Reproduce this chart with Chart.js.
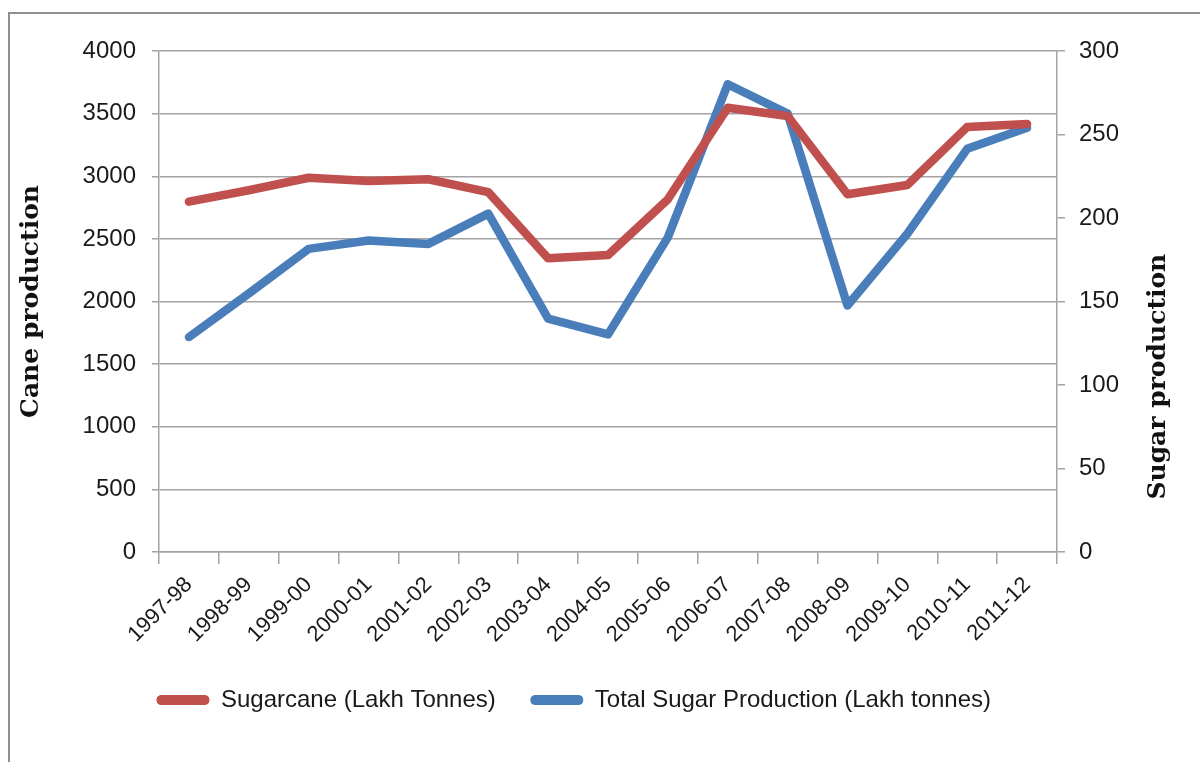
<!DOCTYPE html>
<html>
<head>
<meta charset="utf-8">
<script src="https://cdn.jsdelivr.net/npm/chart.js@4.4.1/dist/chart.umd.min.js"></script>
<style>
html, body { margin: 0; padding: 0; background: #fff; overflow: hidden; }
#marco { position: absolute; left: 8px; top: 12px; width: 1300px; height: 900px; border: 2px solid #8e8e8e; }
#caja { position: absolute; left: 0; top: 0; width: 1200px; height: 762px; }
</style>
</head>
<body>
<div id="marco"></div>
<div id="caja"><canvas id="graficoLineas"></canvas></div>
<script>
// datos
const temporadas = ['1997-98', '1998-99', '1999-00', '2000-01', '2001-02', '2002-03', '2003-04', '2004-05',
                    '2005-06', '2006-07', '2007-08', '2008-09', '2009-10', '2010-11', '2011-12'];
const cana   = [2797, 2888, 2988, 2962, 2976, 2874, 2345, 2371, 2816, 3547, 3481, 2856, 2930, 3393, 3417];
const azucar = [128.7, 154.8, 181.5, 186.5, 184.5, 202.6, 139.7, 130.3, 188.4, 280.1, 262.5, 147.6, 190.6, 241.4, 254];

const rojo = '#C0504D';
const azul = '#4A7EBB';
const gris = '#a3a3a3';
const fuenteTicks = '"Liberation Sans", sans-serif';

// titulo del eje derecho, se lee de abajo hacia arriba
const tituloDerecho = {
  id: 'tituloDerecho',
  afterDraw(chart) {
    const ctx = chart.ctx;
    const area = chart.chartArea;
    ctx.save();
    ctx.translate(chart.width - 42, area.top + area.height * 0.65);
    ctx.rotate(-Math.PI / 2);
    ctx.font = 'bold 25px "DejaVu Serif"';
    ctx.fillStyle = '#111';
    ctx.textAlign = 'center';
    ctx.textBaseline = 'middle';
    ctx.fillText('Sugar production', 0, 0);
    ctx.restore();
  }
};

// la leyenda del original queda un poco a la izquierda
const correrLeyenda = {
  id: 'correrLeyenda',
  afterLayout(chart) {
    const leyenda = chart.legend;
    if (!leyenda) return;
    leyenda.left -= 26;
    leyenda.right -= 26;
  }
};

const chartData = {
  labels: temporadas,
  datasets: [
    {
      label: 'Sugarcane (Lakh Tonnes)',
      data: cana,
      yAxisID: 'y',
      borderColor: rojo,
      backgroundColor: rojo,
      borderWidth: 8.5,
      pointRadius: 0,
      tension: 0,
      borderCapStyle: 'round',
      borderJoinStyle: 'round'
    },
    {
      label: 'Total Sugar Production (Lakh tonnes)',
      data: azucar,
      yAxisID: 'y1',
      borderColor: azul,
      backgroundColor: azul,
      borderWidth: 8.5,
      pointRadius: 0,
      tension: 0,
      borderCapStyle: 'round',
      borderJoinStyle: 'round'
    }
  ]
};

const options = {
  responsive: true,
  maintainAspectRatio: false,
  animation: false,
  layout: {
    padding: { top: 51, left: 0, right: 0, bottom: 40 }
  },
  scales: {
    x: {
      type: 'category',
      offset: true,
      afterFit: function(scale) { scale.height = 101; },
      border: { color: gris, width: 1.5 },
      grid: {
        offset: true,
        drawOnChartArea: false,
        drawTicks: true,
        tickLength: 12,
        color: gris,
        lineWidth: 1.5
      },
      ticks: {
        minRotation: 45,
        maxRotation: 45,
        autoSkip: false,
        padding: 8,
        color: '#1a1a1a',
        font: { family: fuenteTicks, size: 22 }
      }
    },
    y: {
      type: 'linear',
      position: 'left',
      min: 0,
      max: 4000,
      afterFit: function(scale) { scale.width = 159; },
      border: { color: gris, width: 1.5 },
      grid: { color: gris, lineWidth: 1.5, tickLength: 7 },
      ticks: {
        stepSize: 500,
        padding: 16,
        color: '#1a1a1a',
        font: { family: fuenteTicks, size: 24 },
        callback: function(value) { return String(value); }
      },
      title: {
        display: true,
        text: 'Cane production',
        color: '#111',
        padding: { top: 16, bottom: 0 },
        font: { family: '"DejaVu Serif"', size: 25, weight: 'bold' }
      }
    },
    y1: {
      type: 'linear',
      position: 'right',
      min: 0,
      max: 300,
      afterFit: function(scale) { scale.width = 143; },
      border: { color: gris, width: 1.5 },
      grid: { drawOnChartArea: false, color: gris, lineWidth: 1.5, tickLength: 8 },
      ticks: {
        stepSize: 50,
        padding: 14,
        color: '#1a1a1a',
        font: { family: fuenteTicks, size: 24 },
        callback: function(value) { return String(value); }
      }
    }
  },
  plugins: {
    legend: {
      position: 'bottom',
      labels: {
        boxWidth: 52,
        boxHeight: 9,
        padding: 35,
        useBorderRadius: true,
        borderRadius: 4,
        color: '#1a1a1a',
        font: { family: fuenteTicks, size: 24 },
        generateLabels: function(chart) {
          return Chart.defaults.plugins.legend.labels.generateLabels(chart).map(function(item) {
            item.lineWidth = 1;
            return item;
          });
        }
      }
    },
    tooltip: { enabled: false }
  }
};

new Chart(
  document.getElementById('graficoLineas'),
  {
    type: 'line',
    data: chartData,
    options: options,
    plugins: [tituloDerecho, correrLeyenda]
  }
);
</script>
</body>
</html>
